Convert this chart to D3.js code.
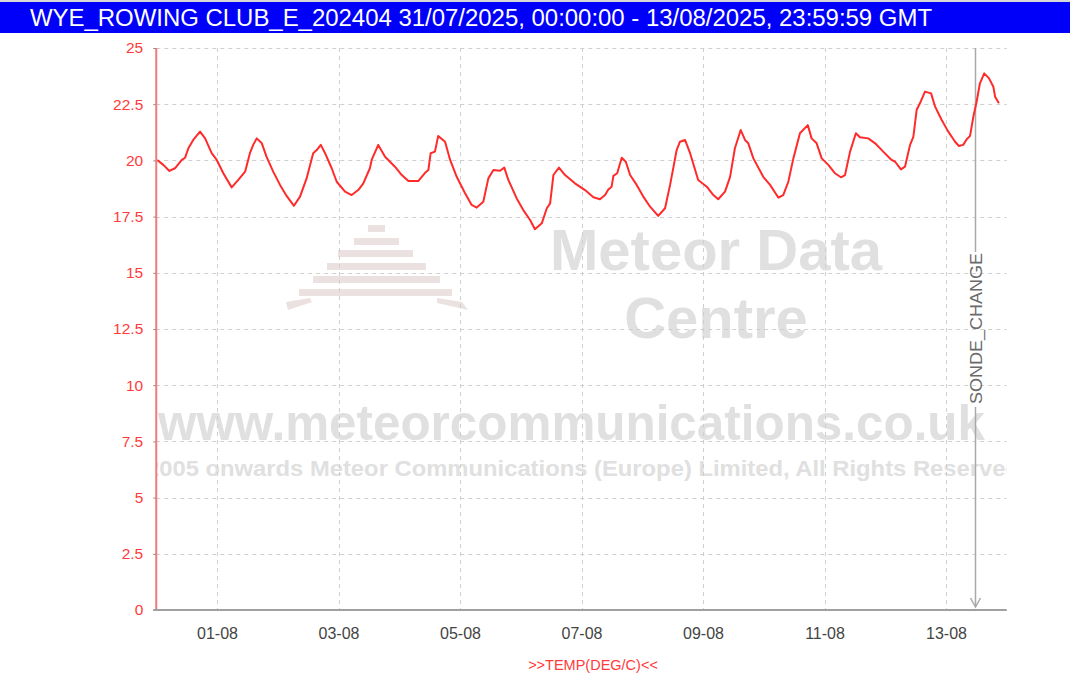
<!DOCTYPE html>
<html>
<head>
<meta charset="utf-8">
<script src="https://cdn.jsdelivr.net/npm/d3@7"></script>
<style>
  html, body { margin: 0; padding: 0; background: #ffffff; }
  svg { display: block; }
</style>
</head>
<body>
<svg id="chart" width="1070" height="682"></svg>
<script>
// ---------------- DATA ----------------
const titleText = "WYE_ROWING CLUB_E_202404 31/07/2025, 00:00:00 - 13/08/2025, 23:59:59 GMT";
const axisTitle = ">>TEMP(DEG/C)<<";
const startUTC = [2025, 6, 31, 0, 0];   // 31/07/2025 00:00 GMT
const endUTC = [2025, 7, 14, 0, 0];     // end of 13/08/2025
// hours since start
const hours = [0.4, 2.8, 5.2, 7.4, 10.1, 11.4, 12.7, 14.6, 17.3, 19.3, 21.9, 23.9, 26.5, 29.8, 32.4, 35.1,
  37.0, 38.3, 39.7, 41.7, 43.6, 46.2, 48.9, 51.5, 54.4, 56.8, 59.4, 62.0, 63.4, 65.0, 66.7, 69.3, 71.3,
  74.6, 77.2, 79.8, 81.8, 84.4, 85.1, 87.7, 90.4, 94.3, 97.0, 99.6, 103.5, 106.2, 107.5, 108.4, 110.1,
  111.4, 114.1, 116.1, 118.7, 122.0, 124.6, 126.6, 129.2, 131.2, 133.2, 135.8, 137.5, 139.1, 142.4,
  145.0, 147.7, 149.6, 152.3, 154.3, 155.6, 156.9, 159.1, 161.5, 165.4, 169.4, 172.7, 175.3, 177.3,
  178.6, 179.9, 180.6, 182.1, 183.9, 185.5, 187.2, 189.8, 192.4, 195.1, 198.3, 201.0, 203.0, 205.6,
  206.9, 208.9, 210.9, 214.1, 217.5, 220.1, 222.0, 224.7, 226.7, 228.6, 230.9, 232.6, 233.9, 235.9,
  239.8, 242.5, 245.8, 247.7, 249.7, 251.7, 254.3, 257.4, 258.9, 260.9, 262.9, 265.5, 268.1, 270.5,
  272.1, 274.1, 276.4, 278.0, 281.3, 284.0, 287.2, 290.5, 291.9, 294.2, 295.8, 297.8, 299.1, 300.4,
  301.7, 303.7, 306.1, 307.7, 310.3, 312.9, 315.6, 317.1, 318.8, 320.2, 321.5, 322.8, 324.1, 325.4,
  327.1, 329.0, 330.7, 331.4, 332.9];
const temps = [20.02, 19.80, 19.53, 19.65, 20.02, 20.12, 20.54, 20.91, 21.28, 20.98, 20.32, 20.02, 19.43, 18.80, 19.13, 19.50,
  20.32, 20.69, 20.98, 20.76, 20.16, 19.50, 18.91, 18.42, 17.98, 18.39, 19.20, 20.32, 20.46, 20.69, 20.32, 19.65, 19.05,
  18.61, 18.46, 18.68, 18.98, 19.65, 20.02, 20.69, 20.16, 19.72, 19.35, 19.08, 19.08, 19.45, 19.57, 20.32, 20.39,
  21.09, 20.83, 20.02, 19.27, 18.54, 18.02, 17.90, 18.16, 19.20, 19.57, 19.54, 19.68, 19.13, 18.31,
  17.79, 17.35, 16.94, 17.20, 17.87, 18.09, 19.35, 19.68, 19.35, 18.98, 18.68, 18.36, 18.27, 18.46,
  18.71, 18.83, 19.31, 19.43, 20.12, 19.94, 19.35, 18.91, 18.39, 17.94, 17.53, 17.87, 18.91, 20.46,
  20.83, 20.91, 20.32, 19.13, 18.83, 18.46, 18.27, 18.61, 19.27, 20.54, 21.35, 20.91, 20.76, 20.09,
  19.27, 18.91, 18.34, 18.46, 19.05, 20.09, 21.21, 21.57, 20.98, 20.76, 20.09, 19.80, 19.43, 19.25,
  19.35, 20.39, 21.21, 21.03, 20.98, 20.76, 20.39, 20.02, 19.94, 19.60, 19.72, 20.69, 21.05, 22.24,
  22.54, 23.06, 22.98, 22.39, 21.80, 21.28, 20.83, 20.64, 20.69, 20.94, 21.09, 21.94, 22.61, 23.43,
  23.87, 23.65, 23.28, 22.83, 22.54];
const yTicks = [0, 2.5, 5, 7.5, 10, 12.5, 15, 17.5, 20, 22.5, 25];
const xTickDays = [1, 3, 5, 7, 9, 11, 13];   // August
const xTickLabels = ["01-08", "03-08", "05-08", "07-08", "09-08", "11-08", "13-08"];
const eventLabel = "SONDE_CHANGE";
const eventUTC = [2025, 7, 13, 11, 24];
const wmLines = ["Meteor Data", "Centre"];
const wmUrl = "www.meteorcommunications.co.uk";
const wmCopy = "2005 onwards Meteor Communications (Europe) Limited, All Rights Reserved";

// ---------------- CHART ----------------
const svg = d3.select("#chart");
const W = 1070, H = 682;
const plot = { left: 156.25, right: 1006.75, top: 48, bottom: 610 };

const t0 = new Date(Date.UTC(...startUTC));
const t1 = new Date(Date.UTC(...endUTC));
const x = d3.scaleUtc().domain([t0, t1]).range([plot.left, plot.right]);
const y = d3.scaleLinear().domain([0, 25]).range([plot.bottom, plot.top]);

const data = hours.map((h, i) => ({ t: new Date(t0.getTime() + h * 3600000), v: temps[i] }));
const xTicks = xTickDays.map(d => new Date(Date.UTC(2025, 7, d)));

svg.append("rect").attr("width", W).attr("height", H).attr("fill", "#fff");

// title bar
svg.append("rect").attr("x", 0).attr("y", 0).attr("width", W).attr("height", 2).attr("fill", "#d8d8d8");
svg.append("rect").attr("x", 0).attr("y", 2).attr("width", W).attr("height", 31).attr("fill", "#0000fa");
svg.append("text")
  .attr("x", 30).attr("y", 26)
  .attr("font-family", "Liberation Sans, Arial, sans-serif")
  .attr("font-size", 23)
  .attr("fill", "#fff")
  .attr("textLength", 902).attr("lengthAdjust", "spacingAndGlyphs")
  .text(titleText);

// clip
svg.append("defs").append("clipPath").attr("id", "plotclip")
  .append("rect").attr("x", plot.left).attr("y", plot.top)
  .attr("width", plot.right - plot.left).attr("height", plot.bottom - plot.top);

// watermark
const wm = svg.append("g").attr("clip-path", "url(#plotclip)");
const logoC = "#ebe1e1";
const bars = [[368, 225, 17], [354, 238, 45], [338, 250, 75], [327, 263, 99], [313, 276, 127], [299, 289, 153]];
bars.forEach(b => wm.append("rect").attr("x", b[0]).attr("y", b[1]).attr("width", b[2]).attr("height", 7).attr("fill", logoC));
wm.append("path").attr("d", "M286,302 L310,298 L312,302 L288,310 Z").attr("fill", logoC);
wm.append("path").attr("d", "M437,298 L462,302 L468,310 L437,303 Z").attr("fill", logoC);

const wmFont = "Liberation Sans, Arial, sans-serif";
const wmCol = "#e0e0e0";
wm.append("text").attr("x", 716).attr("y", 270).attr("text-anchor", "middle")
  .attr("font-family", wmFont).attr("font-weight", "bold").attr("font-size", 58)
  .attr("fill", wmCol).text(wmLines[0]);
wm.append("text").attr("x", 716).attr("y", 338).attr("text-anchor", "middle")
  .attr("font-family", wmFont).attr("font-weight", "bold").attr("font-size", 58)
  .attr("fill", wmCol).text(wmLines[1]);
wm.append("text").attr("x", 158).attr("y", 440)
  .attr("font-family", wmFont).attr("font-weight", "bold").attr("font-size", 50)
  .attr("textLength", 827).attr("lengthAdjust", "spacingAndGlyphs")
  .attr("fill", wmCol).text(wmUrl);
wm.append("text").attr("x", 146).attr("y", 476)
  .attr("font-family", wmFont).attr("font-weight", "bold").attr("font-size", 22)
  .attr("textLength", 874).attr("lengthAdjust", "spacingAndGlyphs")
  .attr("fill", wmCol).text(wmCopy);

// grid
const grid = svg.append("g").attr("stroke", "#cfcfcf").attr("stroke-width", 1).attr("stroke-dasharray", "4,4");
grid.selectAll("line.h").data(yTicks).join("line")
  .attr("x1", plot.left).attr("x2", plot.right)
  .attr("y1", d => Math.round(y(d)) + 0.5).attr("y2", d => Math.round(y(d)) + 0.5);
grid.selectAll("line.v").data(xTicks).join("line")
  .attr("y1", plot.top).attr("y2", plot.bottom)
  .attr("x1", d => Math.round(x(d)) + 0.5).attr("x2", d => Math.round(x(d)) + 0.5);

// event marker
const ex = Math.round(x(new Date(Date.UTC(...eventUTC)))) + 0.5;
const ev = svg.append("g").attr("stroke", "#a8a8a8").attr("stroke-width", 1.5).attr("fill", "none");
ev.append("line").attr("x1", ex).attr("x2", ex).attr("y1", plot.top).attr("y2", 252);
ev.append("line").attr("x1", ex).attr("x2", ex).attr("y1", 407).attr("y2", plot.bottom - 3);
ev.append("path").attr("d", `M${ex - 5},${plot.bottom - 12} L${ex},${plot.bottom - 3} L${ex + 5},${plot.bottom - 12}`);
svg.append("text")
  .attr("transform", `translate(${ex + 6},404) rotate(-90)`)
  .attr("font-family", "Liberation Sans, Arial, sans-serif")
  .attr("font-size", 17).attr("fill", "#6a6a6a")
  .attr("textLength", 151).attr("lengthAdjust", "spacingAndGlyphs")
  .text(eventLabel);

// data line
svg.append("path").datum(data)
  .attr("clip-path", "url(#plotclip)")
  .attr("fill", "none").attr("stroke", "#ff2b2b").attr("stroke-width", 2)
  .attr("stroke-linejoin", "round")
  .attr("d", d3.line().x(d => x(d.t)).y(d => y(d.v)));

// y axis
const yAxis = svg.append("g").attr("transform", `translate(${plot.left},0)`)
  .call(d3.axisLeft(y).tickValues(yTicks).tickFormat(d => String(d)).tickSize(3).tickPadding(10));
yAxis.select(".domain").remove();
yAxis.selectAll(".tick line").attr("stroke", "#888");
yAxis.selectAll(".tick text").attr("fill", "#ff3b3b")
  .attr("font-family", "Liberation Sans, Arial, sans-serif").attr("font-size", 15.5);
svg.append("line").attr("x1", plot.left).attr("x2", plot.left).attr("y1", plot.top).attr("y2", plot.bottom)
  .attr("stroke", "#f27a7a").attr("stroke-width", 2);

// x axis
const xAxis = svg.append("g").attr("transform", `translate(0,${plot.bottom})`)
  .call(d3.axisBottom(x).tickValues(xTicks).tickFormat((d, i) => xTickLabels[i]).tickSize(0).tickPadding(18));
xAxis.select(".domain").remove();
xAxis.selectAll(".tick text").attr("fill", "#444")
  .attr("font-family", "Liberation Sans, Arial, sans-serif").attr("font-size", 16);
svg.append("line").attr("x1", plot.left - 3).attr("x2", plot.right).attr("y1", plot.bottom).attr("y2", plot.bottom)
  .attr("stroke", "#a0a0a0").attr("stroke-width", 2);

// axis title
svg.append("text").attr("x", 593).attr("y", 670).attr("text-anchor", "middle")
  .attr("font-family", "Liberation Sans, Arial, sans-serif").attr("font-size", 14.5)
  .attr("fill", "#ff3b3b").text(axisTitle);
</script>
</body>
</html>
